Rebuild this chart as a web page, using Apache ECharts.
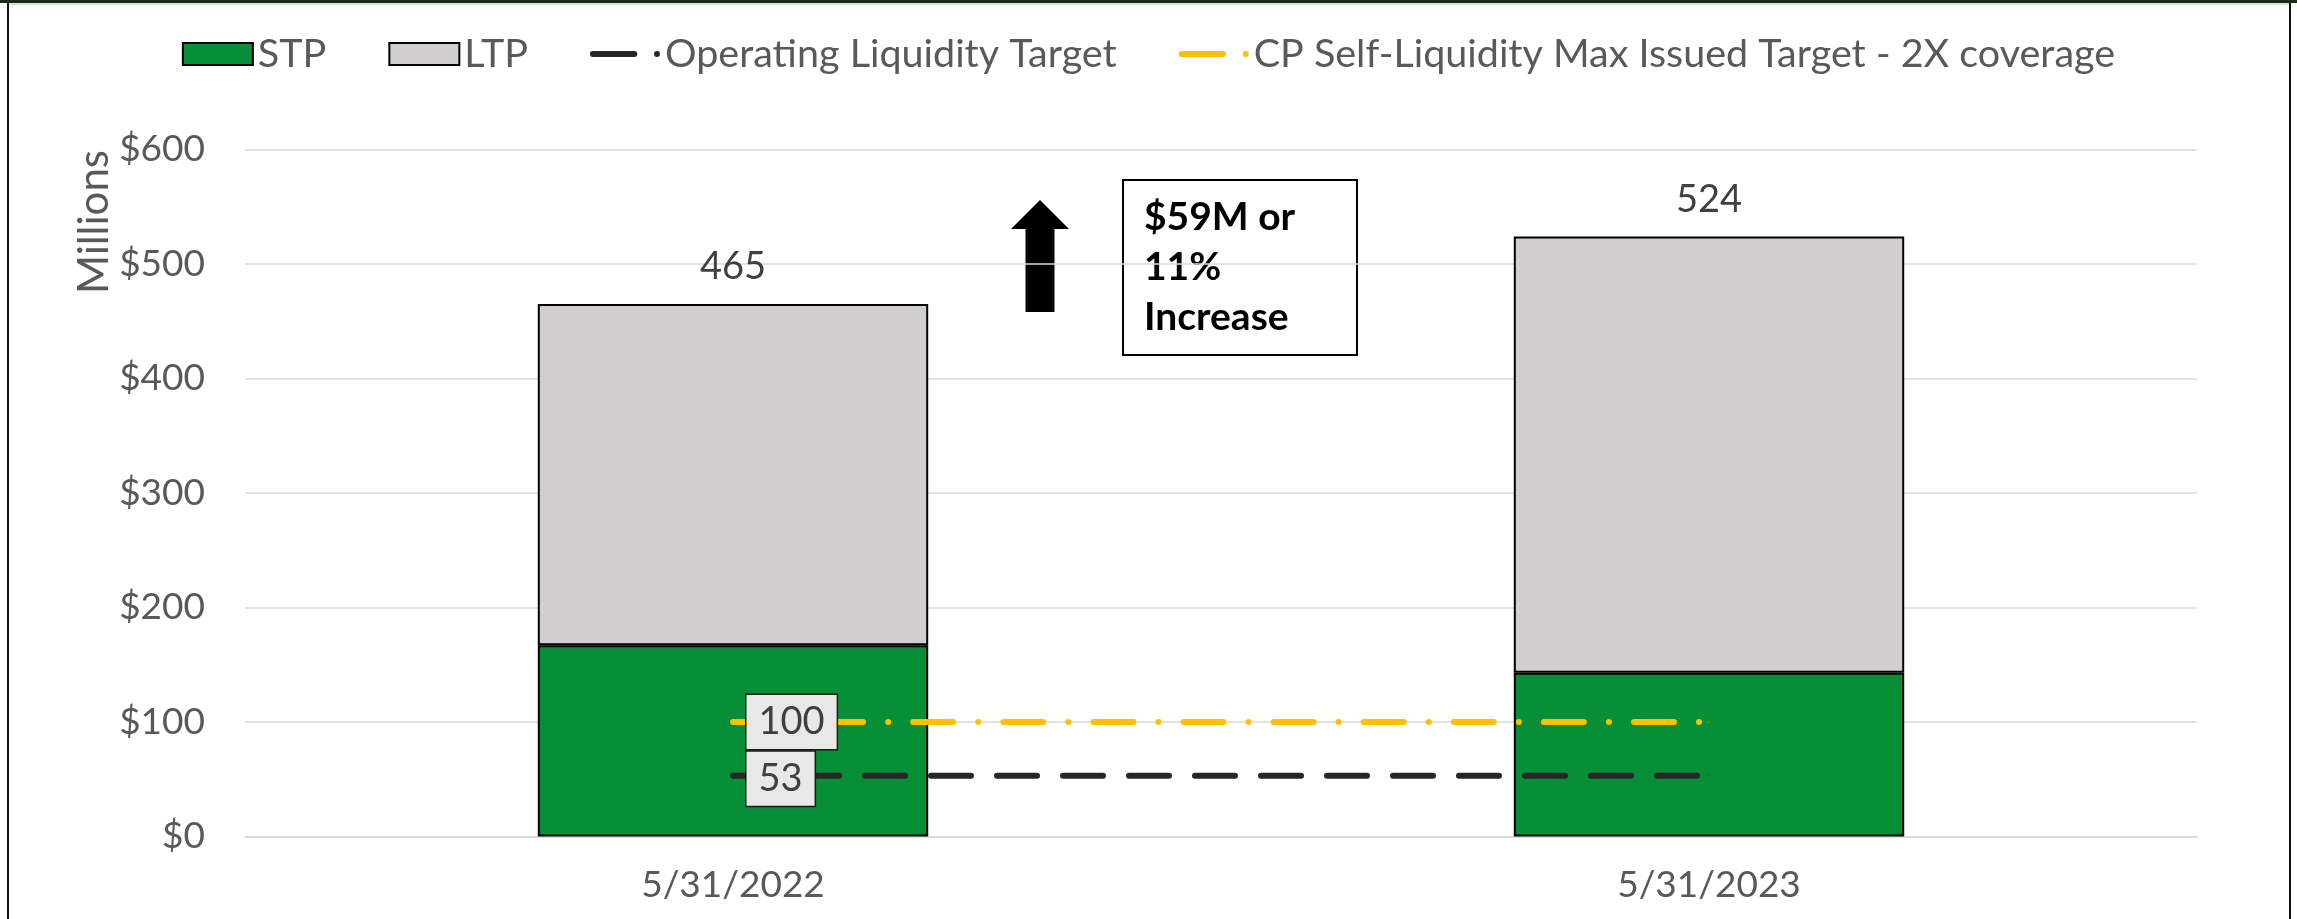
<!DOCTYPE html>
<html><head><meta charset="utf-8">
<script src="https://cdn.jsdelivr.net/npm/echarts@6/dist/echarts.min.js"></script>
<style>html,body{margin:0;padding:0;background:#fff}#c{width:2297px;height:919px}</style>
</head><body><div id="c"></div>
<script>
const categories = ['5/31/2022', '5/31/2023'];
const stpValues = [167, 143];
const ltpValues = [298, 381];
const operatingTarget = [53, 53];
const cpTarget = [100, 100];
const yMin = 0, yMax = 600, yInterval = 100;

const FONT = 'Lato, "Open Sans", sans-serif';
const FS = 37;
const DASH_DOT = 'path://M3,0 L45,0 A3,3 0 0 1 45,6 L3,6 A3,3 0 0 1 3,0 Z M68,0 A3,3 0 1 1 67.99,0 Z';

const chart = echarts.init(document.getElementById('c'), null, {width: 2297, height: 919, renderer: 'canvas'});

const lineLabel = (offsetY) => ({
  show: true,
  position: 'right',
  distance: 13,
  offset: [0, offsetY],
  fontFamily: FONT, fontSize: 38, color: '#404040',
  backgroundColor: '#E8E8E8', borderColor: '#1a1a1a', borderWidth: 1.5,
  padding: [8, 12, 8, 12]
});
// label only on the first point of each target line
const withFirstLabel = (arr, offsetY) => arr.map((v, i) => i === 0 ? {value: v, label: lineLabel(offsetY)} : {value: v});

chart.setOption({
  backgroundColor: '#fff',
  animation: false,
  textStyle: {fontFamily: FONT},
  legend: {
    top: 29, left: 'center',
    itemWidth: 70, itemHeight: 22, itemGap: 62,
    textStyle: {fontSize: 39.5, color: '#595959', fontFamily: FONT},
    data: [
      {name: 'STP', icon: 'rect'},
      {name: 'LTP', icon: 'rect'},
      {name: 'Operating Liquidity Target', icon: DASH_DOT, itemStyle: {color: '#262626', borderWidth: 0}},
      {name: 'CP Self-Liquidity Max Issued Target - 2X coverage', icon: DASH_DOT, itemStyle: {color: '#FFC000', borderWidth: 0}}
    ]
  },
  grid: {left: 245, right: 100, top: 149.5, bottom: 82.5, containLabel: false},
  xAxis: {
    type: 'category', data: categories,
    axisLine: {show: true, lineStyle: {color: '#d9d9d9', width: 1.5}},
    axisTick: {show: false},
    axisLabel: {fontSize: FS, color: '#595959', margin: 30, fontFamily: FONT}
  },
  yAxis: {
    type: 'value', min: yMin, max: yMax, interval: yInterval,
    axisLine: {show: false}, axisTick: {show: false},
    axisLabel: {fontSize: FS, color: '#595959', margin: 40, fontFamily: FONT, formatter: v => '$' + v},
    splitLine: {lineStyle: {color: '#d9d9d9', width: 1.5}}
  },
  series: [
    {name: 'STP', type: 'bar', stack: 'total', data: stpValues, barWidth: '40%',
     itemStyle: {color: '#068F36', borderColor: '#000', borderWidth: 2}},
    {name: 'LTP', type: 'bar', stack: 'total', data: ltpValues, barWidth: '40%',
     itemStyle: {color: '#D0CECE', borderColor: '#000', borderWidth: 2},
     label: {show: true, position: 'top', distance: 18, fontFamily: FONT, fontSize: 38, color: '#404040',
       formatter: p => String(stpValues[p.dataIndex] + ltpValues[p.dataIndex])}},
    {name: 'Operating Liquidity Target', type: 'line', data: withFirstLabel(operatingTarget, 3),
     symbol: 'circle', symbolSize: 1, z: 5,
     itemStyle: {color: '#262626'},
     lineStyle: {color: '#262626', width: 6, type: [40, 26], cap: 'round'},
     label: {show: false}},
    {name: 'CP Self-Liquidity Max Issued Target - 2X coverage', type: 'line', data: withFirstLabel(cpTarget, 0),
     symbol: 'circle', symbolSize: 1, z: 5,
     itemStyle: {color: '#FFC000'},
     lineStyle: {color: '#FFC000', width: 6, type: [40, 25, 0.1, 25], cap: 'round'},
     label: {show: false}}
  ],
  graphic: [
    {type: 'rect', shape: {x: 8, y: 2, width: 2282, height: 960}, style: {fill: 'none', stroke: '#111', lineWidth: 2}, silent: true},
    {type: 'line', shape: {x1: 0, y1: 1.5, x2: 2297, y2: 1.5}, style: {stroke: '#1c2a18', lineWidth: 3}, silent: true},
    {type: 'line', shape: {x1: 9, y1: 4, x2: 2289, y2: 4}, style: {stroke: '#a9d08e', lineWidth: 1}, silent: true},
    {type: 'text', x: 94, y: 222, rotation: Math.PI / 2,
     style: {text: 'Millions', x: 0, y: 0, fontSize: 42, fontFamily: FONT, fill: '#595959', align: 'center', verticalAlign: 'middle'}},
    {type: 'polygon', shape: {points: [[1040, 200], [1069, 229], [1054.5, 229], [1054.5, 312], [1025.5, 312], [1025.5, 229], [1011, 229]]},
     style: {fill: '#000'}},
    {type: 'rect', shape: {x: 1123, y: 180, width: 234, height: 175}, style: {fill: '#fff', stroke: '#000', lineWidth: 2}},
    {type: 'text', x: 1144, y: 192,
     style: {text: '$59M or\n11%\nIncrease', fontWeight: 'bold', fontSize: 39, fontFamily: FONT, lineHeight: 50, fill: '#000', align: 'left', verticalAlign: 'top'}}
  ]
});
</script></body></html>
